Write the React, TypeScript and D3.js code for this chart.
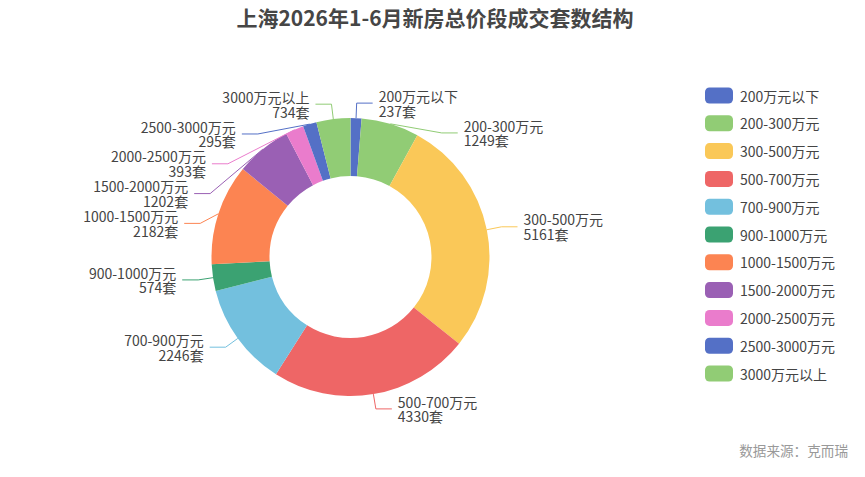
import React from "react";
import * as d3 from "d3";

const title = "上海2026年1-6月新房总价段成交套数结构";
const source = "数据来源：克而瑞";
const categories = [
  "200万元以下",
  "200-300万元",
  "300-500万元",
  "500-700万元",
  "700-900万元",
  "900-1000万元",
  "1000-1500万元",
  "1500-2000万元",
  "2000-2500万元",
  "2500-3000万元",
  "3000万元以上",
];
const values = [237, 1249, 5161, 4330, 2246, 574, 2182, 1202, 393, 295, 734];
const unit = "套";
const palette = [
  "#5470c6",
  "#91cc75",
  "#fac858",
  "#ee6666",
  "#73c0de",
  "#3ba272",
  "#fc8452",
  "#9a60b4",
  "#ea7ccc",
];

const W = 865;
const H = 477;
const FONT = "'Microsoft YaHei', 'Noto Sans CJK SC', sans-serif";

export default function App() {
  const cx = 350.5;
  const cy = 257;
  const rOuter = 139;
  const rInner = 81;
  const len1 = 15;
  const len2 = 16;
  const gap = 29.8;
  const half = 7.4;

  const color = d3.scaleOrdinal<string, string>().domain(categories).range(palette);
  const pie = d3
    .pie<number>()
    .sort(null)
    .startAngle(0)
    .endAngle(2 * Math.PI)
    .value((d) => d);
  const arcs = pie(values);
  const arcGen = d3.arc<d3.PieArcDatum<number>>().innerRadius(rInner).outerRadius(rOuter);

  type Lab = {
    i: number;
    dir: number;
    p1: [number, number];
    x2: number;
    y: number;
    moved: boolean;
  };
  const labels: Lab[] = arcs.map((a, i) => {
    const mid = (a.startAngle + a.endAngle) / 2;
    const s = Math.sin(mid);
    const c = Math.cos(mid);
    const dir = s >= 0 ? 1 : -1;
    return {
      i,
      dir,
      p1: [cx + rOuter * s, cy - rOuter * c],
      x2: cx + (rOuter + len1) * s,
      y: cy - (rOuter + len1) * c,
      moved: false,
    };
  });
  const rA = rOuter + len1;
  [1, -1].forEach((side) => {
    const list = labels.filter((l) => l.dir === side).sort((a, b) => a.y - b.y);
    for (let k = 1; k < list.length; k++) {
      const need = list[k - 1].y + gap;
      if (list[k].y < need) {
        list[k].y = need;
        list[k].moved = true;
      }
    }
    list.forEach((l) => {
      if (l.moved) {
        const dy = l.y - cy;
        const dx = Math.sqrt(Math.max(0, rA * rA - dy * dy));
        l.x2 = cx + side * dx;
      }
    });
  });

  const legendX = 705;
  const legendY = 87.5;
  const legendStep = 27.8;

  return (
    <div style={{ position: "absolute", left: 0, top: 0 }}>
      <svg width={W} height={H} style={{ display: "block", background: "#fff" }}>
        <text
          x={435}
          y={26}
          textAnchor="middle"
          fontFamily={FONT}
          fontSize={21}
          fontWeight="bold"
          fill="#464646"
        >
          {title}
        </text>

        <g transform={`translate(${cx},${cy})`}>
          {arcs.map((a, i) => (
            <path key={i} d={arcGen(a) || ""} fill={color(categories[i])} />
          ))}
        </g>

        {labels.map((l) => {
          const x3 = l.x2 + l.dir * len2;
          const tx = x3 + l.dir * 6;
          const c = color(categories[l.i]);
          return (
            <g key={l.i}>
              <polyline
                points={`${l.p1[0]},${l.p1[1]} ${l.x2},${l.y} ${x3},${l.y}`}
                fill="none"
                stroke={c}
                strokeWidth={1}
              />
              <text
                x={tx}
                textAnchor={l.dir > 0 ? "start" : "end"}
                fontFamily={FONT}
                fontSize={14}
                fill="#444"
              >
                <tspan x={tx} y={l.y - half} dominantBaseline="central">
                  {categories[l.i]}
                </tspan>
                <tspan x={tx} y={l.y + half} dominantBaseline="central">
                  {values[l.i] + unit}
                </tspan>
              </text>
            </g>
          );
        })}

        {categories.map((c, i) => (
          <g key={c} transform={`translate(${legendX},${legendY + i * legendStep})`}>
            <rect width={28} height={16} rx={4.5} ry={4.5} fill={color(c)} />
            <text
              x={35}
              y={8}
              dominantBaseline="central"
              fontFamily={FONT}
              fontSize={14}
              fill="#444"
            >
              {c}
            </text>
          </g>
        ))}

        <text
          x={848}
          y={450}
          textAnchor="end"
          dominantBaseline="central"
          fontFamily={FONT}
          fontSize={13.6}
          fill="#999"
        >
          {source}
        </text>
      </svg>
    </div>
  );
}
